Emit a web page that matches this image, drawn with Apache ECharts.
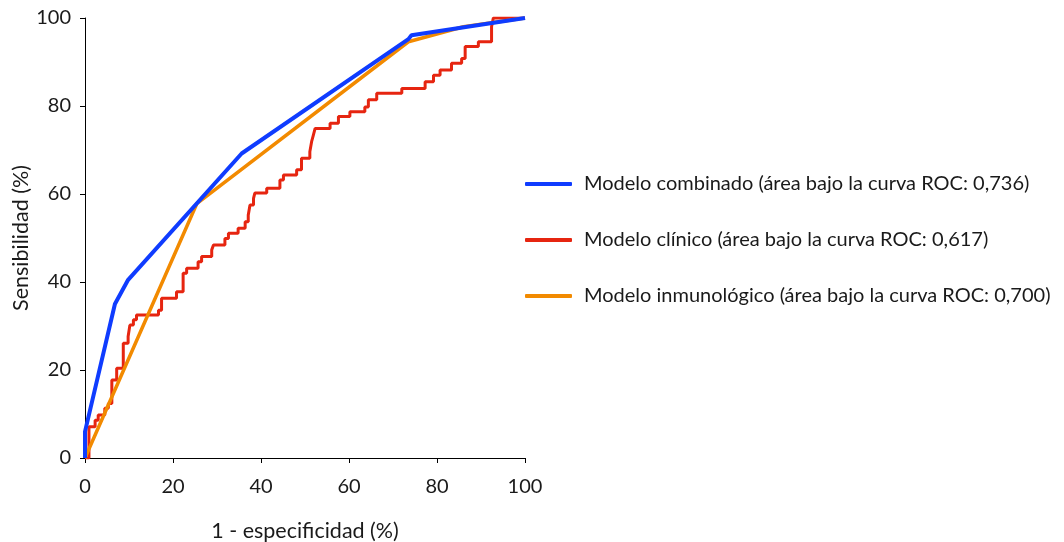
<!DOCTYPE html>
<html>
<head>
<meta charset="utf-8">
<script src="https://cdn.jsdelivr.net/npm/echarts@6/dist/echarts.min.js"></script>
<style>
  html, body { margin: 0; padding: 0; background: #ffffff; }
  #chart { width: 1064px; height: 542px; }
</style>
</head>
<body>
<div id="chart"></div>
<script>
// Axis ticks
const axisTicks = [0, 20, 40, 60, 80, 100];

// Series names (legend)
const seriesNames = [
  'Modelo combinado (área bajo la curva ROC: 0,736)',
  'Modelo clínico (área bajo la curva ROC: 0,617)',
  'Modelo inmunológico (área bajo la curva ROC: 0,700)'
];

// Combined model ROC curve: 1 - specificity (%) and sensitivity (%)
const combinadoX = [0, 0, 6.8, 9.8, 35.6, 73.5, 74.2, 100];
const combinadoY = [0, 6.0, 35.0, 40.5, 69.2, 95.2, 96.1, 100];

// Clinical model ROC curve (stepwise; each point ends a horizontal run)
const clinicoX = [0, 0.9, 2.3, 3.0, 4.5, 5.3, 6.1, 7.2, 8.7, 9.8, 10.2, 11.0, 11.7, 16.7, 17.4,
  20.8, 22.3, 23.1, 25.7, 26.5, 28.8, 29.2, 31.8, 32.6, 34.8, 36.4, 37.1, 37.5, 38.3, 38.6,
  41.3, 44.3, 45.1, 48.1, 49.2, 51.1, 51.5, 51.9, 52.3, 55.7, 57.6, 60.2, 63.6, 64.4, 66.3,
  72.0, 77.3, 79.2, 80.7, 83.3, 85.6, 86.4, 89.4, 92.4, 92.8, 100];
const clinicoY = [0, 0, 7.1, 8.6, 9.8, 11.3, 12.4, 17.7, 20.4, 26.1, 27.6, 30.2, 31.4, 32.5, 33.6,
  36.3, 37.8, 42.0, 43.1, 44.6, 45.8, 47.3, 48.4, 49.9, 51.1, 52.2, 53.7, 55.2, 57.5, 59.0,
  60.2, 61.3, 63.2, 64.3, 65.5, 68.1, 69.6, 71.9, 73.4, 74.9, 76.1, 77.6, 78.7, 79.8, 81.4,
  82.9, 84.0, 85.5, 87.0, 88.2, 89.7, 90.8, 93.5, 94.6, 98.0, 100];

// Immunological model ROC curve
const inmunoX = [0, 25.4, 73.5, 86.0, 100];
const inmunoY = [0, 57.8, 94.6, 98.0, 100];

const colors = { combinado: '#0f3cff', clinico: '#e62510', inmuno: '#f28a00' };
const FONT = 'Lato, "Noto Sans", sans-serif';

const zip = (xs, ys) => xs.map((x, i) => [x, ys[i]]);

const chart = echarts.init(document.getElementById('chart'));

const axisCommon = {
  type: 'value',
  min: 0,
  max: 100,
  interval: 20,
  nameLocation: 'middle',
  nameTextStyle: { fontFamily: FONT, fontSize: 21.5, color: '#1a1a1a' },
  axisLine: { show: true, onZero: false, lineStyle: { color: '#000', width: 1 } },
  axisTick: { show: true, length: 5, lineStyle: { color: '#000', width: 1 } },
  splitLine: { show: false }
};

const labelCommon = {
  fontFamily: FONT, fontSize: 20, color: '#1a1a1a',
  formatter: v => axisTicks.includes(v) ? String(v) : ''
};

chart.setOption({
  animation: false,
  backgroundColor: '#ffffff',
  grid: { left: 85, right: 539, top: 18, bottom: 84, containLabel: false, outerBoundsMode: 'none' },
  xAxis: Object.assign({}, axisCommon, {
    name: '1 - especificidad (%)', nameGap: 62,
    axisLabel: Object.assign({}, labelCommon, { margin: 19 })
  }),
  yAxis: Object.assign({}, axisCommon, {
    name: 'Sensibilidad (%)', nameGap: 52,
    axisLabel: Object.assign({}, labelCommon, { margin: 14 })
  }),
  legend: {
    orient: 'vertical',
    left: 525,
    top: 174,
    padding: 0,
    itemGap: 36,
    itemWidth: 47,
    itemHeight: 4,
    icon: 'roundRect',
    data: seriesNames,
    textStyle: { fontFamily: FONT, fontSize: 20, lineHeight: 20, color: '#1a1a1a', padding: [0, 0, 0, 7] }
  },
  series: [
    {
      name: seriesNames[1], type: 'line', step: 'start', symbol: 'none',
      data: zip(clinicoX, clinicoY),
      lineStyle: { color: colors.clinico, width: 3 }, itemStyle: { color: colors.clinico }, z: 2
    },
    {
      name: seriesNames[2], type: 'line', symbol: 'none',
      data: zip(inmunoX, inmunoY),
      lineStyle: { color: colors.inmuno, width: 3.5 }, itemStyle: { color: colors.inmuno }, z: 3
    },
    {
      name: seriesNames[0], type: 'line', symbol: 'none',
      data: zip(combinadoX, combinadoY),
      lineStyle: { color: colors.combinado, width: 4 }, itemStyle: { color: colors.combinado }, z: 4
    }
  ]
});
</script>
</body>
</html>
